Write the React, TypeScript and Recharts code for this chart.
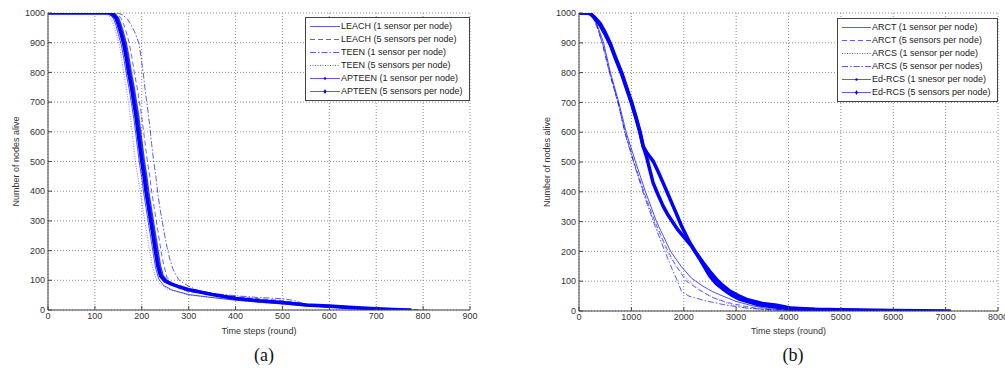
import React from 'react';
import { LineChart, Line, XAxis, YAxis, CartesianGrid, Legend } from 'recharts';

type P = [number, number][];

// ---------- shared ----------
const yTicks = [0, 100, 200, 300, 400, 500, 600, 700, 800, 900, 1000];

// ---------- chart (a) ----------
const aXTicks = [0, 100, 200, 300, 400, 500, 600, 700, 800, 900];
const aNames = [
  'LEACH (1 sensor per node)',
  'LEACH (5 sensors per node)',
  'TEEN (1 sensor per node)',
  'TEEN (5 sensors per node)',
  'APTEEN (1 sensor per node)',
  'APTEEN (5 sensors per node)',
];
const aLeach1: P = [[0,1000],[125,1000],[133,994],[140,980],[145,958],[150,928],[156,895],[162,845],[167,795],[173,745],[178,695],[183,645],[187,595],[191,545],[195,495],[200,445],[204,395],[209,345],[214,295],[219,245],[224,195],[229,145],[236,105],[247,82],[265,67],[300,52],[350,42],[400,33],[450,26],[500,20],[550,14],[600,10],[650,6],[700,3],[740,1],[760,0]];
const aLeach5: P = [[0,1000],[140,1000],[148,995],[155,985],[161,965],[167,935],[173,900],[179,850],[184,800],[190,750],[195,700],[200,650],[204,600],[208,550],[212,500],[217,450],[221,400],[226,350],[231,300],[236,250],[241,200],[247,150],[254,110],[265,88],[280,72],[300,62],[350,52],[400,45],[450,38],[500,32],[530,25],[560,18],[600,13],[650,8],[700,5],[750,2],[810,0]];
const aTeen1: P = [[0,1000],[148,1000],[160,993],[170,978],[178,958],[186,932],[194,898],[199,845],[204,786],[208,730],[213,673],[217,620],[221,560],[225,505],[230,450],[234,395],[239,340],[244,295],[249,250],[254,210],[260,170],[266,140],[272,120],[280,100],[289,91],[300,80],[320,66],[350,56],[400,48],[450,42],[500,38],[525,32],[545,22],[565,15],[620,10],[680,6],[740,2],[790,0]];
const aTeen5: P = [[0,1000],[120,1000],[128,994],[135,980],[141,955],[147,920],[152,895],[157,845],[162,795],[167,745],[172,695],[176,645],[180,595],[183,545],[187,495],[192,445],[197,395],[202,345],[207,295],[212,245],[217,195],[223,145],[230,108],[240,85],[255,70],[280,60],[300,50],[350,42],[400,35],[450,28],[500,22],[550,15],[600,10],[650,7],[700,4],[750,2],[780,0]];
const aApteen1: P = [[0,1000],[135,1000],[143,995],[150,983],[155,962],[160,935],[166,900],[172,850],[177,800],[183,750],[188,700],[193,650],[197,600],[201,550],[205,500],[210,450],[214,400],[219,350],[224,300],[229,250],[234,200],[239,150],[245,115],[255,97],[268,86],[285,76],[300,70],[350,54],[400,41],[450,32],[500,26],[550,18],[600,12],[650,7],[700,4],[750,1],[770,0]];
const aApteen5: P = [[0,1000],[130,1000],[138,995],[145,983],[150,962],[155,935],[161,900],[167,850],[172,800],[178,750],[183,700],[188,650],[192,600],[196,550],[200,500],[205,450],[209,400],[214,350],[219,300],[224,250],[229,200],[234,150],[240,115],[250,97],[262,88],[280,78],[300,68],[350,52],[400,39],[450,31],[500,25],[550,17],[600,13],[650,8],[700,4],[750,1],[775,0]];

// ---------- chart (b) ----------
const bXTicks = [0, 1000, 2000, 3000, 4000, 5000, 6000, 7000, 8000];
const bNames = [
  'ARCT (1 sensor per node)',
  'ARCT (5 sensors per node)',
  'ARCS (1 sensor per node)',
  'ARCS (5 sensor per nodes)',
  'Ed-RCS (1 snesor per node)',
  'Ed-RCS (5 sensors per node)',
];
const bArct1: P = [[0,1000],[200,1000],[260,990],[320,970],[400,935],[470,900],[600,800],[760,700],[900,600],[1080,500],[1270,400],[1480,300],[1750,200],[1950,150],[2150,110],[2350,85],[2550,65],[2750,50],[3000,32],[3300,18],[3600,8],[4000,2],[4300,0]];
const bArct5: P = [[0,1000],[200,1000],[270,985],[340,960],[440,900],[580,800],[740,700],[880,600],[1050,500],[1240,400],[1450,300],[1700,200],[1860,150],[2050,100],[2300,70],[2550,45],[2850,28],[3200,15],[3500,6],[3900,1],[4200,0]];
const bArcs1: P = [[0,1000],[200,1000],[280,982],[350,955],[450,900],[590,800],[750,700],[870,600],[1040,500],[1230,400],[1430,300],[1680,200],[1850,150],[2100,100],[2400,60],[2650,38],[2900,22],[3200,10],[3500,4],[3800,0]];
const bArcs5: P = [[0,1000],[220,1000],[290,975],[360,945],[460,890],[600,790],[760,690],[890,590],[1060,490],[1240,390],[1440,290],[1640,200],[1780,140],[1880,100],[1960,65],[2100,50],[2400,35],[2800,20],[3200,10],[3600,5],[4200,2],[5200,0]];
const bEd1: P = [[0,1000],[170,1000],[230,996],[300,982],[400,960],[500,928],[600,893],[700,845],[815,795],[910,745],[1006,695],[1090,645],[1166,598],[1224,553],[1288,519],[1350,475],[1415,430],[1510,390],[1606,352],[1700,322],[1797,296],[1890,272],[1989,251],[2149,218],[2308,173],[2499,117],[2620,92],[2753,73],[2900,55],[3073,39],[3400,22],[3700,14],[3905,10],[4300,6],[4800,3],[5500,1],[6200,0]];
const bEd5: P = [[0,1000],[150,1000],[210,998],[300,985],[400,966],[500,935],[592,900],[700,850],[815,800],[910,750],[1006,700],[1090,650],[1166,600],[1224,553],[1300,530],[1415,503],[1510,468],[1606,430],[1700,392],[1797,352],[1880,318],[1958,285],[2040,256],[2117,229],[2200,205],[2371,162],[2500,132],[2627,106],[2750,85],[2881,67],[3040,52],[3201,39],[3500,25],[3774,19],[4032,10],[4500,6],[5000,4],[6000,2],[7100,0]];

// ---------- styling ----------
type Style = { dash?: string; width: number; opacity: number; marker?: 'dot' | 'plus' };
const FONT = '"Liberation Sans", Arial, Helvetica, sans-serif';
const BLUE = '#0000ff';
const AXIS = '#444';

const aStyles: Style[] = [
  { width: 1, opacity: 0.7 },
  { dash: '5 3', width: 1, opacity: 0.6 },
  { dash: '6 2 1.5 2', width: 1, opacity: 0.65 },
  { dash: '1 1.5', width: 1, opacity: 0.5 },
  { width: 2, opacity: 0.8, marker: 'dot' },
  { width: 3.6, opacity: 1, marker: 'plus' },
];
const bStyles: Style[] = [
  { width: 1, opacity: 0.7 },
  { dash: '5 3', width: 1, opacity: 0.6 },
  { dash: '1 1.5', width: 1, opacity: 0.5 },
  { dash: '6 2 1.5 2', width: 1, opacity: 0.65 },
  { width: 3.5, opacity: 1, marker: 'dot' },
  { width: 3.5, opacity: 1, marker: 'plus' },
];

const toRows = (p: P) => p.map(([r, n]) => ({ r, n }));

function LegendBox({ names, styles, sample }: { names: string[]; styles: Style[]; sample: number }) {
  return (
    <div
      style={{
        border: `1px solid ${AXIS}`,
        background: '#fff',
        padding: '2px 6px 2px 4px',
        fontFamily: FONT,
        fontSize: 9,
        color: '#222',
        lineHeight: '13px',
        whiteSpace: 'nowrap',
        textAlign: 'left',
      }}
    >
      {names.map((nm, i) => {
        const s = styles[i];
        return (
          <div key={nm} style={{ display: 'flex', alignItems: 'center', height: 13 }}>
            <svg width={sample + 1} height={13} style={{ display: 'block', flex: 'none' }}>
              <line
                x1={0}
                x2={sample}
                y1={6.5}
                y2={6.5}
                stroke={BLUE}
                strokeOpacity={0.65}
                strokeWidth={1}
                strokeDasharray={s.dash}
              />
              {s.marker === 'dot' && <circle cx={sample / 2} cy={6.5} r={1.2} fill={BLUE} />}
              {s.marker === 'plus' && (
                <g stroke={BLUE} strokeWidth={1}>
                  <line x1={sample / 2} x2={sample / 2} y1={4.5} y2={8.5} />
                  <circle cx={sample / 2} cy={6.5} r={1} fill={BLUE} />
                </g>
              )}
            </svg>
            <span>{nm}</span>
          </div>
        );
      })}
    </div>
  );
}

function Panel(props: {
  series: P[];
  names: string[];
  styles: Style[];
  xTicks: number[];
  xMax: number;
  margin: { top: number; right: number; bottom: number; left: number };
  xAxisHeight: number;
  legendPos: { left: number; top: number };
  sample: number;
}) {
  const { series, names, styles, xTicks, xMax, margin, xAxisHeight, legendPos, sample } = props;
  const tickStyle = { fontSize: 9, fill: '#333', fontFamily: FONT };
  return (
    <LineChart width={480} height={340} margin={margin}>
      <CartesianGrid
        xAxisId="x"
        yAxisId="y"
        stroke="#8a8a8a"
        strokeDasharray="1 2"
        horizontalValues={yTicks}
        verticalValues={xTicks}
      />
      <XAxis
        xAxisId="x"
        dataKey="r"
        type="number"
        domain={[0, xMax]}
        ticks={xTicks}
        interval={0}
        allowDataOverflow
        height={xAxisHeight}
        tickSize={-4}
        tickMargin={7}
        stroke={AXIS}
        tick={tickStyle}
        label={{ value: 'Time steps (round)', position: 'insideBottom', offset: 6, style: { fontSize: 9, fill: '#333', fontFamily: FONT } }}
      />
      <XAxis
        xAxisId="t"
        orientation="top"
        type="number"
        domain={[0, xMax]}
        ticks={xTicks}
        interval={0}
        allowDataOverflow
        height={0}
        tickSize={-4}
        stroke={AXIS}
        tick={false}
      />
      <YAxis
        yAxisId="y"
        type="number"
        domain={[0, 1000]}
        ticks={yTicks}
        interval={0}
        allowDataOverflow
        width={40}
        tickSize={-4}
        tickMargin={7}
        stroke={AXIS}
        tick={tickStyle}
        label={{
          value: 'Number of nodes alive',
          angle: -90,
          position: 'insideLeft',
          offset: 8,
          style: { textAnchor: 'middle', fontSize: 9, fill: '#333', fontFamily: FONT },
        }}
      />
      <YAxis
        yAxisId="r"
        orientation="right"
        type="number"
        domain={[0, 1000]}
        ticks={yTicks}
        interval={0}
        allowDataOverflow
        width={0}
        tickSize={-4}
        stroke={AXIS}
        tick={false}
      />
      {series.map((p, i) => {
        const s = styles[i];
        return (
          <Line
            key={names[i]}
            name={names[i]}
            data={toRows(p)}
            dataKey="n"
            xAxisId="x"
            yAxisId="y"
            type="linear"
            stroke={BLUE}
            strokeOpacity={s.opacity}
            strokeWidth={s.width}
            strokeDasharray={s.dash}
            strokeLinejoin="round"
            dot={false}
            activeDot={false}
            isAnimationActive={false}
          />
        );
      })}
      <Legend
        layout="vertical"
        align="center"
        verticalAlign="middle"
        wrapperStyle={{ left: legendPos.left, top: legendPos.top, width: 'auto', height: 'auto' }}
        content={() => <LegendBox names={names} styles={styles} sample={sample} />}
      />
    </LineChart>
  );
}

export default function App() {
  const labelStyle: React.CSSProperties = {
    position: 'absolute',
    top: 345,
    width: 60,
    textAlign: 'center',
    fontFamily: '"Liberation Serif", "Times New Roman", serif',
    fontSize: 18,
    lineHeight: '20px',
    color: '#111',
  };
  return (
    <div
      style={{
        position: 'absolute',
        left: 0,
        top: 0,
        width: 1005,
        height: 369,
        overflow: 'hidden',
        background: '#fff',
      }}
    >
      <div style={{ position: 'absolute', left: 0, top: 0 }}>
        <Panel
          series={[aLeach1, aLeach5, aTeen1, aTeen5, aApteen1, aApteen5]}
          names={aNames}
          styles={aStyles}
          xTicks={aXTicks}
          xMax={900}
          margin={{ top: 13, right: 10, bottom: 0, left: 8 }}
          xAxisHeight={30}
          legendPos={{ left: 305, top: 17 }}
          sample={30}
        />
      </div>
      <div style={{ position: 'absolute', left: 530, top: 0 }}>
        <Panel
          series={[bArct1, bArct5, bArcs1, bArcs5, bEd1, bEd5]}
          names={bNames}
          styles={bStyles}
          xTicks={bXTicks}
          xMax={8000}
          margin={{ top: 13, right: 12, bottom: 0, left: 9 }}
          xAxisHeight={29}
          legendPos={{ left: 307, top: 18 }}
          sample={29}
        />
      </div>
      <div style={{ ...labelStyle, left: 234 }}>(a)</div>
      <div style={{ ...labelStyle, left: 763 }}>(b)</div>
    </div>
  );
}
